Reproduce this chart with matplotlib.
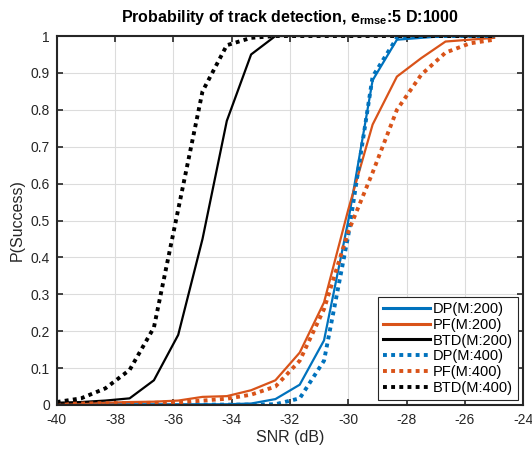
import numpy as np
import matplotlib
matplotlib.use("Agg")
import matplotlib.pyplot as plt

plt.rcParams["font.family"] = ["Liberation Sans", "DejaVu Sans"]
plt.rcParams["axes.unicode_minus"] = False
plt.rcParams["mathtext.fontset"] = "custom"
plt.rcParams["mathtext.rm"] = "Liberation Sans:bold"
plt.rcParams["mathtext.it"] = "Liberation Sans:bold"
plt.rcParams["mathtext.bf"] = "Liberation Sans:bold"

snr = np.linspace(-40, -25, 19)

dp_200 = [0.002, 0.002, 0.002, 0.002, 0.002, 0.002, 0.002, 0.002, 0.004, 0.016,
          0.055, 0.175, 0.50, 0.88, 0.99, 0.995, 1.0, 1.0, 1.0]
pf_200 = [0.005, 0.006, 0.006, 0.008, 0.009, 0.012, 0.022, 0.024, 0.040, 0.067,
          0.142, 0.278, 0.53, 0.76, 0.89, 0.94, 0.985, 0.99, 0.995]
btd_200 = [0.006, 0.008, 0.012, 0.018, 0.067, 0.19, 0.45, 0.77, 0.95, 1.0,
           1.0, 1.0, 1.0, 1.0, 1.0, 1.0, 1.0, 1.0, 1.0]
dp_400 = [0.001, 0.001, 0.001, 0.001, 0.001, 0.001, 0.001, 0.001, 0.001, 0.002,
          0.018, 0.12, 0.46, 0.89, 0.995, 1.0, 1.0, 1.0, 1.0]
pf_400 = [0.002, 0.004, 0.005, 0.005, 0.006, 0.007, 0.012, 0.017, 0.028, 0.05,
          0.12, 0.26, 0.47, 0.63, 0.80, 0.895, 0.955, 0.98, 0.99]
btd_400 = [0.008, 0.018, 0.045, 0.095, 0.21, 0.53, 0.85, 0.975, 0.995, 1.0,
           1.0, 1.0, 1.0, 1.0, 1.0, 1.0, 1.0, 1.0, 1.0]

blue = "#0072BD"
orange = "#D95319"

fig = plt.figure(figsize=(5.32, 4.5), dpi=100)
ax = fig.add_axes([0.1066, 0.1, 0.877, 0.82])

dot = (0, (1, 1.1))
ax.plot(snr, dp_200, color=blue, lw=1.6, label="DP(M:200)")
ax.plot(snr, pf_200, color=orange, lw=1.6, label="PF(M:200)")
ax.plot(snr, btd_200, color="black", lw=1.6, label="BTD(M:200)")
ax.plot(snr, dp_400, color=blue, lw=2.8, ls=dot, label="DP(M:400)")
ax.plot(snr, pf_400, color=orange, lw=2.8, ls=dot, label="PF(M:400)")
ax.plot(snr, btd_400, color="black", lw=2.8, ls=dot, label="BTD(M:400)")

ax.set_xlim(-40, -24)
ax.set_ylim(0, 1)
ax.set_xticks(np.arange(-40, -23, 2))
ax.set_yticks(np.arange(0, 1.01, 0.1))
ax.set_yticklabels(["0", "0.1", "0.2", "0.3", "0.4", "0.5", "0.6", "0.7", "0.8", "0.9", "1"])
ax.grid(True, color="#dcdcdc", lw=0.8)
ax.set_axisbelow(True)
ax.tick_params(direction="in", top=True, right=True, length=4, width=1.2,
               labelsize=10, colors="#262626")
ax.tick_params(axis="x", pad=6)
ax.tick_params(axis="y", pad=5)
for s in ax.spines.values():
    s.set_linewidth(1.5)
    s.set_color("#262626")

ax.set_xlabel("SNR (dB)", fontsize=11.5, color="#262626", labelpad=2)
ax.set_ylabel("P(Success)", fontsize=11.5, color="#262626", labelpad=4)
ax.set_title(r"Probability of track detection, $e_{rmse}$:5 D:1000",
             fontsize=11.5, fontweight="bold", pad=10)

leg = ax.legend(loc="lower right", fontsize=10.5, fancybox=False, framealpha=1,
                edgecolor="#262626", handlelength=3.2, labelspacing=0.12,
                borderaxespad=0.35, handletextpad=0.2, borderpad=0.35)
leg.get_frame().set_linewidth(0.8)
for h in leg.get_lines()[:3]:
    h.set_linewidth(2.2)

fig.savefig("out.png", dpi=100)
